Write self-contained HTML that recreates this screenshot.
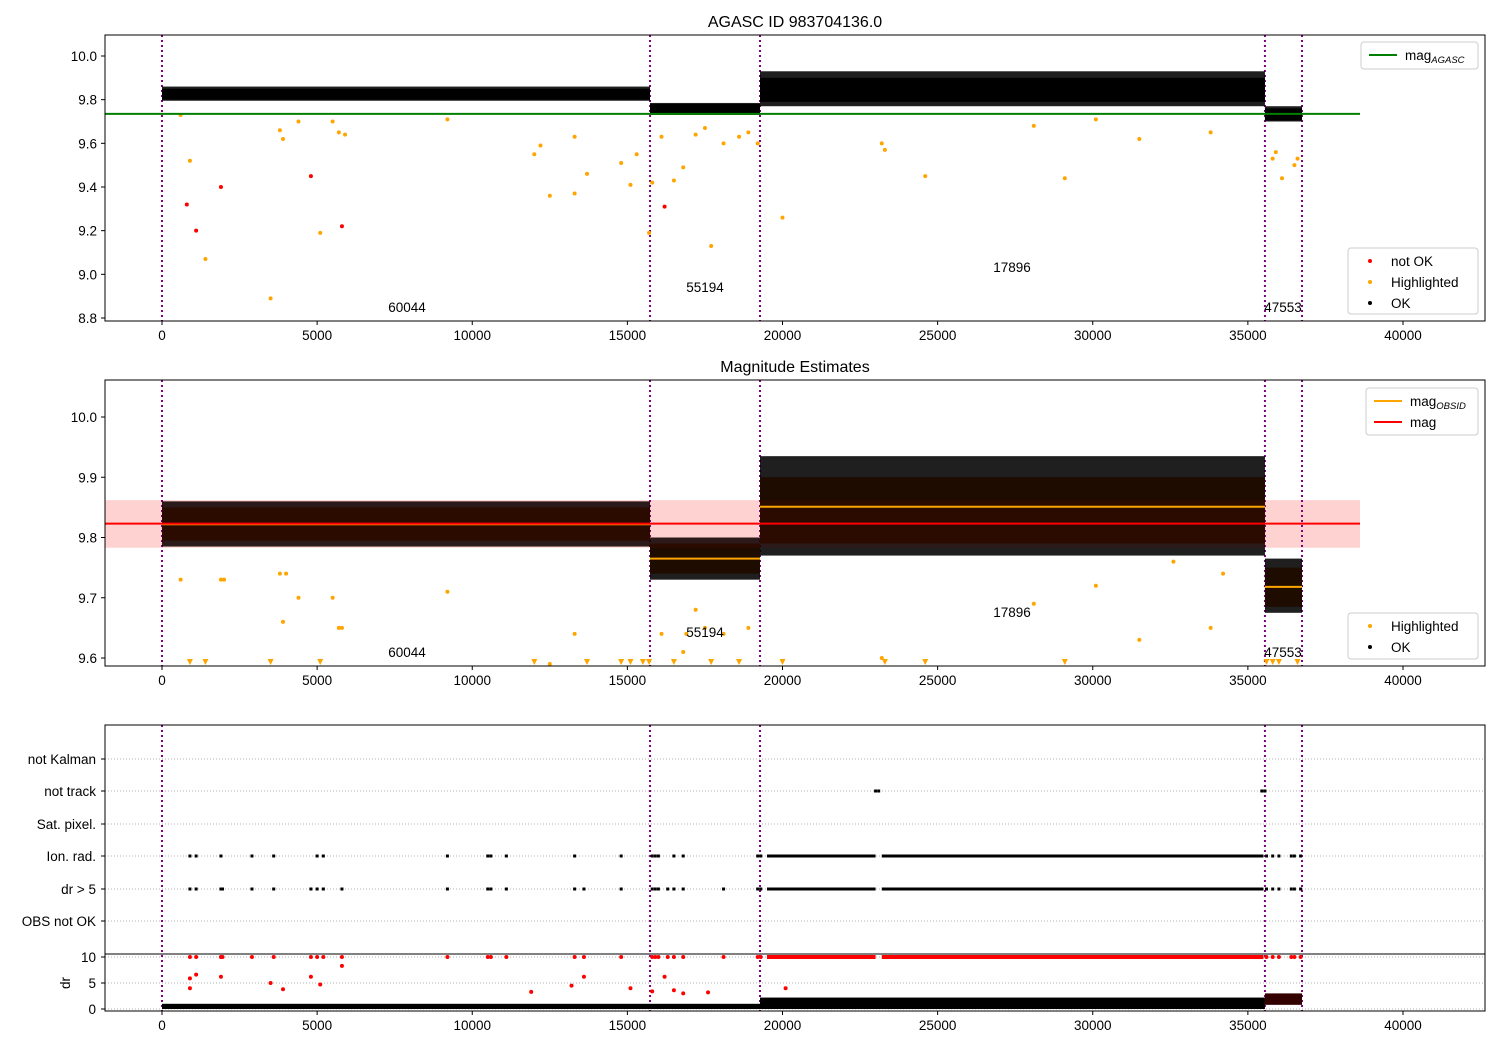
<!DOCTYPE html>
<html><head><meta charset="utf-8"><style>
body{margin:0;background:#fff;font-family:"Liberation Sans",sans-serif}
svg text{font-family:"Liberation Sans",sans-serif}
</style></head><body>
<svg id="c" width="1500" height="1050" xmlns="http://www.w3.org/2000/svg"></svg>
<script>
// ---- data ----
const segBounds=[0,15730,19275,35550,36745];
const obsIds=["60044","55194","17896","47553"];
const xTicks=[0,5000,10000,15000,20000,25000,30000,35000,40000];
const p1Ticks=[8.8,9.0,9.2,9.4,9.6,9.8,10.0];
const p2Ticks=[9.6,9.7,9.8,9.9,10.0];
const magAgasc=9.735;
const magMean=9.823, magStdLo=9.783, magStdHi=9.862;
const obsMeans=[9.822,9.765,9.851,9.718];
// band envelopes per segment [lo,hi] (panel 1)
const p1Lo=[9.795,9.73,9.77,9.70];
const p1Hi=[9.86,9.785,9.93,9.77];
const p1Core=[[9.80,9.85],[9.735,9.78],[9.79,9.90],[9.705,9.76]];
// panel 2 envelopes
const p2Lo=[9.785,9.73,9.77,9.675];
const p2Hi=[9.86,9.80,9.935,9.765];
const p2Core=[[9.795,9.85],[9.74,9.79],[9.79,9.90],[9.685,9.75]];
// outliers
const p1OrangeX=[600,900,1400,3500,3800,3900,4400,5100,5500,5700,5900,9200,12000,12200,12500,13300,13300,13700,14800,15100,15300,15700,15800,16100,16500,16800,17200,17500,17700,18100,18600,18900,19200,20000,23200,23300,24600,28100,29100,30100,31500,33800,35800,35900,36100,36500,36600];
const p1OrangeY=[9.73,9.52,9.07,8.89,9.66,9.62,9.70,9.19,9.70,9.65,9.64,9.71,9.55,9.59,9.36,9.37,9.63,9.46,9.51,9.41,9.55,9.19,9.42,9.63,9.43,9.49,9.64,9.67,9.13,9.60,9.63,9.65,9.60,9.26,9.60,9.57,9.45,9.68,9.44,9.71,9.62,9.65,9.53,9.56,9.44,9.50,9.53];
const p1RedX=[800,1100,1900,4800,5800,16200];
const p1RedY=[9.32,9.20,9.40,9.45,9.22,9.31];
const p2OrangeX=[600,900,1400,1900,2000,3500,3800,3900,4000,4400,5100,5500,5700,5800,9200,12000,12500,13300,13700,14800,15100,15500,15700,16100,16500,16800,16900,17200,17500,17700,18100,18600,18900,20000,23200,23300,24600,28100,29100,30100,31500,32600,33800,34200,35600,35800,36000,36600];
const p2OrangeY=[9.73,9.3,9.3,9.73,9.73,9.3,9.74,9.66,9.74,9.70,9.3,9.70,9.65,9.65,9.71,9.3,9.59,9.64,9.3,9.3,9.3,9.3,9.3,9.64,9.3,9.61,9.64,9.68,9.65,9.3,9.64,9.3,9.65,9.3,9.60,9.3,9.3,9.69,9.3,9.72,9.63,9.76,9.65,9.74,9.3,9.3,9.3,9.3];
// flags panel
const flagRows=["OBS not OK","dr > 5","Ion. rad.","Sat. pixel.","not track","not Kalman"];
const ionX=[900,1100,1900,2900,3600,5000,5200,9200,10500,10600,11100,13300,14800,15800,15900,16000,16500,16800,19200,19300,35600,35800,36000,36400,36500,36700];
const drFlagX=[900,1100,1900,1950,2900,3600,4800,5000,5200,5800,9200,10500,10600,11100,13300,13600,14800,15800,15900,16000,16300,16500,16800,18100,19200,19300,35600,35800,36000,36400,36500,36700];
const contStart=[19500,23200];
const contEnd=[23000,35500];
const notTrackX=[23000,23100,35450,35550];
const drRedX=[900,900,1100,1900,3500,3900,4800,5100,5800,11900,13200,13600,15100,15800,16200,16500,16800,17600,20100];
const drRedY=[5.9,4.0,6.6,6.2,5.0,3.8,6.2,4.7,8.3,3.3,4.5,6.2,4.0,3.4,6.2,3.6,3.0,3.2,4.0];
const drBandLo=[0,0,0,0.8];
const drBandHi=[1.0,1.0,2.2,3.0];
const drTicks=[0,5,10];
// ---- scales ----
const X=v=>162+v*0.031025;
const P1=v=>56+(10-v)*218.33;
const P2=v=>417+(10-v)*602.5;
const DR=v=>1009-v*5.2;
const rowY=[921,889,856,824,791,759];
const svg=document.getElementById('c');
const NS='http://www.w3.org/2000/svg';
function el(tag,attrs,txt,parent){const e=document.createElementNS(NS,tag);for(const k in attrs)e.setAttribute(k,attrs[k]);if(txt!==undefined)e.textContent=txt;(parent||svg).appendChild(e);return e;}
function txt(x,y,s,size,anchor,name){const t=el('text',{x:x,y:y,'font-size':size,'text-anchor':anchor||'middle',fill:'#000'},s);

return t;}

const panels=[[35,321],[380,666],[725,1011]];
function xAxis(bottom){
  xTicks.forEach(v=>{el('line',{x1:X(v),x2:X(v),y1:bottom,y2:bottom+4,stroke:'#000'});
  txt(X(v),bottom+19,String(v),13.5,'middle','x-tick-label');});
}
function vlines(top,bottom){
  segBounds.forEach(v=>{const l=el('line',{x1:X(v),x2:X(v),y1:top,y2:bottom,stroke:'#800080','stroke-width':2,'stroke-dasharray':'2,3'});
  
  });
}
function band(Y,lo,hi,core,coreCol){
  for(let i=0;i<4;i++){
    const x1=X(segBounds[i]),x2=X(segBounds[i+1]);
    const r=el('rect',{x:x1,y:Y(hi[i]),width:x2-x1,height:Y(lo[i])-Y(hi[i]),fill:'#000','fill-opacity':0.88});
    
    
    el('rect',{x:x1,y:Y(core[i][1]),width:x2-x1,height:Y(core[i][0])-Y(core[i][1]),fill:coreCol});
  }
}
function dots(xs,ys,Y,col,name,minV){
  xs.forEach((x,i)=>{let v=ys[i];let c;
    if(minV!==undefined&&v<minV){const cx=X(x),cy=663;c=el('polygon',{points:`${cx-3},${cy-4} ${cx+3},${cy-4} ${cx},${cy+2}`,fill:col});}
    else c=el('circle',{cx:X(x),cy:Y(v),r:2,fill:col});
    
    });
}
// ---- Panel 1 ----
txt(795,27,'AGASC ID 983704136.0',16,'middle','title-agasc');
vlines(35,321);
band(P1,p1Lo,p1Hi,p1Core,'#000');
dots(p1OrangeX,p1OrangeY,P1,'orange','highlighted-point');
dots(p1RedX,p1RedY,P1,'red','not-ok-point');
el('line',{x1:105,x2:1360,y1:P1(magAgasc),y2:P1(magAgasc),stroke:'green','stroke-width':2});
p1Ticks.forEach(v=>{el('line',{x1:101,x2:105,y1:P1(v),y2:P1(v),stroke:'#000'});txt(97,P1(v)+5,v.toFixed(1),13.5,'end','y-tick-label');});
xAxis(321);
[[407,312],[705,292],[1012,272],[1283,312]].forEach((p,i)=>txt(p[0],p[1],obsIds[i],13.5,'middle','obsid-label'));
// ---- Panel 2 ----
txt(795,372,'Magnitude Estimates',16,'middle','title-magnitude');
el('rect',{x:105,y:P2(magStdHi),width:1255,height:P2(magStdLo)-P2(magStdHi),fill:'#ffe0e0'});
vlines(380,666);
band(P2,p2Lo,p2Hi,p2Core,'#1e0c00');
el('rect',{x:105,y:P2(magStdHi),width:1255,height:P2(magStdLo)-P2(magStdHi),fill:'red','fill-opacity':0.06});
obsMeans.forEach((m,i)=>{const l=el('line',{x1:X(segBounds[i]),x2:X(segBounds[i+1]),y1:P2(m),y2:P2(m),stroke:'orange','stroke-width':2});

});
el('line',{x1:105,x2:1360,y1:P2(magMean),y2:P2(magMean),stroke:'red','stroke-width':2});
dots(p2OrangeX,p2OrangeY,P2,'orange','highlighted-point',9.59);
p2Ticks.forEach(v=>{el('line',{x1:101,x2:105,y1:P2(v),y2:P2(v),stroke:'#000'});txt(97,P2(v)+5,v.toFixed(1),13.5,'end','y-tick-label');});
xAxis(666);
[[407,657],[705,637],[1012,617],[1283,657]].forEach((p,i)=>txt(p[0],p[1],obsIds[i],13.5,'middle','obsid-label'));
// ---- Panel 3 ----
rowY.forEach((y,i)=>{el('line',{x1:105,x2:1485,y1:y,y2:y,stroke:'#b0b0b0','stroke-dasharray':'1,2'});
el('line',{x1:101,x2:105,y1:y,y2:y,stroke:'#000'});
txt(96,y+5,flagRows[i],13.5,'end','flag-row-label');});
drTicks.forEach(v=>{el('line',{x1:105,x2:1485,y1:DR(v),y2:DR(v),stroke:'#b0b0b0','stroke-dasharray':'1,2'});
el('line',{x1:101,x2:105,y1:DR(v),y2:DR(v),stroke:'#000'});txt(96,DR(v)+5,String(v),13.5,'end','dr-tick-label');});
const drt=txt(70,983,'dr',13.5,'middle','dr-axis-title');drt.setAttribute('transform','rotate(-90 70 983)');
vlines(725,1011);
ionX.forEach(x=>{el('rect',{x:X(x)-1.5,y:rowY[2]-1.5,width:3,height:3,fill:'#000'});});
drFlagX.forEach(x=>{el('rect',{x:X(x)-1.5,y:rowY[1]-1.5,width:3,height:3,fill:'#000'});
const r=el('circle',{cx:X(x),cy:DR(10),r:2,fill:'red'});});
contStart.forEach((s,i)=>{[rowY[2],rowY[1]].forEach(y=>{const r=el('rect',{x:X(s),y:y-1.5,width:X(contEnd[i])-X(s),height:3,fill:'#000'});
});
el('rect',{x:X(s),y:DR(10)-2,width:X(contEnd[i])-X(s),height:4,fill:'red'});});
notTrackX.forEach(x=>el('rect',{x:X(x)-1.5,y:rowY[4]-1.5,width:3,height:3,fill:'#000'}));
for(let i=0;i<4;i++){const x1=X(segBounds[i]),x2=X(segBounds[i+1]);
const r=el('rect',{x:x1,y:DR(drBandHi[i]),width:x2-x1,height:DR(drBandLo[i])-DR(drBandHi[i]),fill:i==3?'#300':'#000'});
}
dots(drRedX,drRedY,DR,'red','dr-point');
xAxis(1011);
el('line',{x1:105,x2:1485,y1:954,y2:954,stroke:'#000'});
panels.forEach(p=>{const r=el('rect',{x:105,y:p[0],width:1380,height:p[1]-p[0],fill:'none',stroke:'#000','stroke-width':1});
});
// legends
function legend(x,y,w,h,items,name){const g=el('rect',{x:x,y:y,width:w,height:h,fill:'#fff','fill-opacity':0.85,stroke:'#ccc',rx:3});

items.forEach((it,i)=>{const cy=y+13+i*21;
if(it.t==='line')el('line',{x1:x+8,x2:x+36,y1:cy,y2:cy,stroke:it.c,'stroke-width':2});
else el('circle',{cx:x+22,cy:cy,r:2,fill:it.c});
const t=txt(x+(it.t==='line'?44:43),cy+5,it.l,13.5,'start','legend-entry');
if(it.sub){el('tspan',{'font-size':9.5,'font-style':'italic',dy:3},it.sub,t);}});}
legend(1361,42,117,27,[{t:'line',c:'green',l:'mag',sub:'AGASC'}],'legend-agasc');
legend(1348,248,130,66,[{t:'dot',c:'red',l:'not OK'},{t:'dot',c:'orange',l:'Highlighted'},{t:'dot',c:'#000',l:'OK'}],'legend-points');
legend(1366,388,112,47,[{t:'line',c:'orange',l:'mag',sub:'OBSID'},{t:'line',c:'red',l:'mag'}],'legend-mag');
legend(1348,613,130,46,[{t:'dot',c:'orange',l:'Highlighted'},{t:'dot',c:'#000',l:'OK'}],'legend-points-2');
</script>
</body></html>
